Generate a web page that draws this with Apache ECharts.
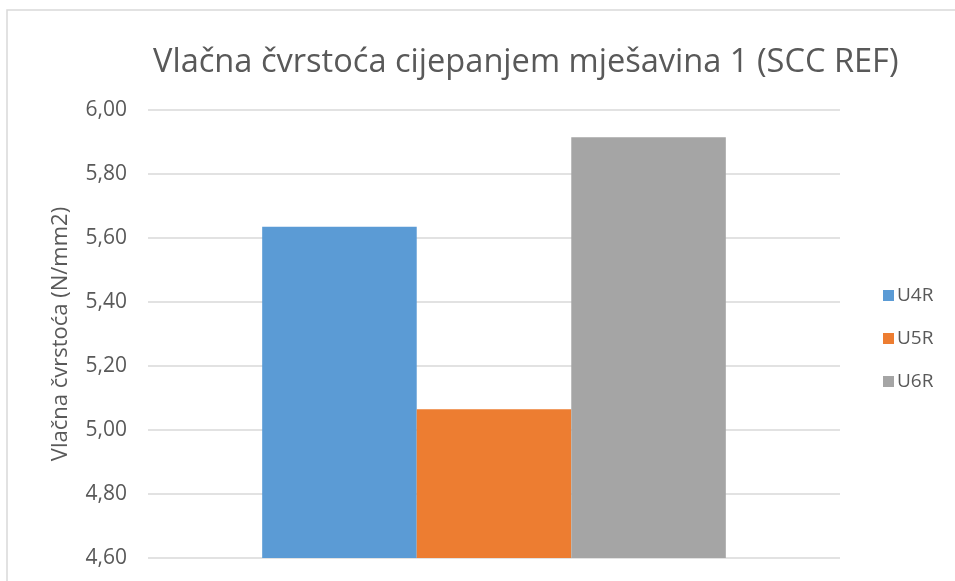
<!DOCTYPE html>
<html lang="hr">
<head>
    <meta charset="UTF-8">
    <title>Vlačna čvrstoća</title>
    <script src="https://cdn.jsdelivr.net/npm/echarts@6/dist/echarts.min.js"></script>
    <style>
        *{ margin: 0; padding: 0; }
        html,body{ width: 100%; height: 100%; background: #fff; }
        .container{ width: 955px; height: 581px; }
    </style>
</head>
<body>
<div class="container"></div>
<script>
    // podaci
    let categories = [''];
    let seriesNames = ['U4R', 'U5R', 'U6R'];
    let values = [5.635, 5.065, 5.915];
    let colors = ['#5B9BD5', '#ED7D31', '#A5A5A5'];
    let yTicks = { min: 4.6, max: 6.0, interval: 0.2 };

    let container = document.querySelector('.container');
    let chart = echarts.init(container);
    let font = 'Open Sans';

    let series = seriesNames.map((name, i) => ({
        name,
        type: 'bar',
        data: [values[i]],
        barGap: '0%',
        barCategoryGap: '33%',
        itemStyle: { color: colors[i] }
    }));

    let option = {
        animation: false,
        color: colors,
        graphic: [{
            type: 'rect',
            shape: { x: 7, y: 10, width: 960, height: 590 },
            style: { fill: 'none', stroke: '#d9d9d9', lineWidth: 1.5 },
            silent: true
        }],
        title: {
            text: 'Vlačna čvrstoća cijepanjem mješavina 1 (SCC REF)',
            left: 148,
            top: 41,
            textStyle: { fontFamily: font, fontSize: 32.6, fontWeight: 'normal', color: '#595959' }
        },
        legend: {
            orient: 'vertical',
            left: 878,
            top: 281,
            itemGap: 24,
            itemWidth: 11,
            itemHeight: 11,
            icon: 'rect',
            textStyle: { fontFamily: font, fontSize: 19, color: '#595959', padding: [0, 0, 0, -2] },
            data: seriesNames
        },
        grid: { left: 148, right: 115, top: 110, bottom: 23 },
        xAxis: {
            type: 'category',
            data: categories,
            axisLine: { show: false },
            axisTick: { show: false },
            axisLabel: { show: false }
        },
        yAxis: {
            type: 'value',
            min: yTicks.min,
            max: yTicks.max,
            interval: yTicks.interval,
            name: 'Vlačna čvrstoća (N/mm2)',
            nameLocation: 'middle',
            nameGap: 76,
            nameTextStyle: { fontFamily: font, fontSize: 22, color: '#595959' },
            axisLabel: {
                fontFamily: font,
                fontSize: 21,
                color: '#595959',
                margin: 21,
                formatter: v => v.toFixed(2).replace('.', ',')
            },
            splitLine: { lineStyle: { color: '#d9d9d9', width: 1.5 } }
        },
        series
    };
    chart.setOption(option);
</script>
</body>
</html>
